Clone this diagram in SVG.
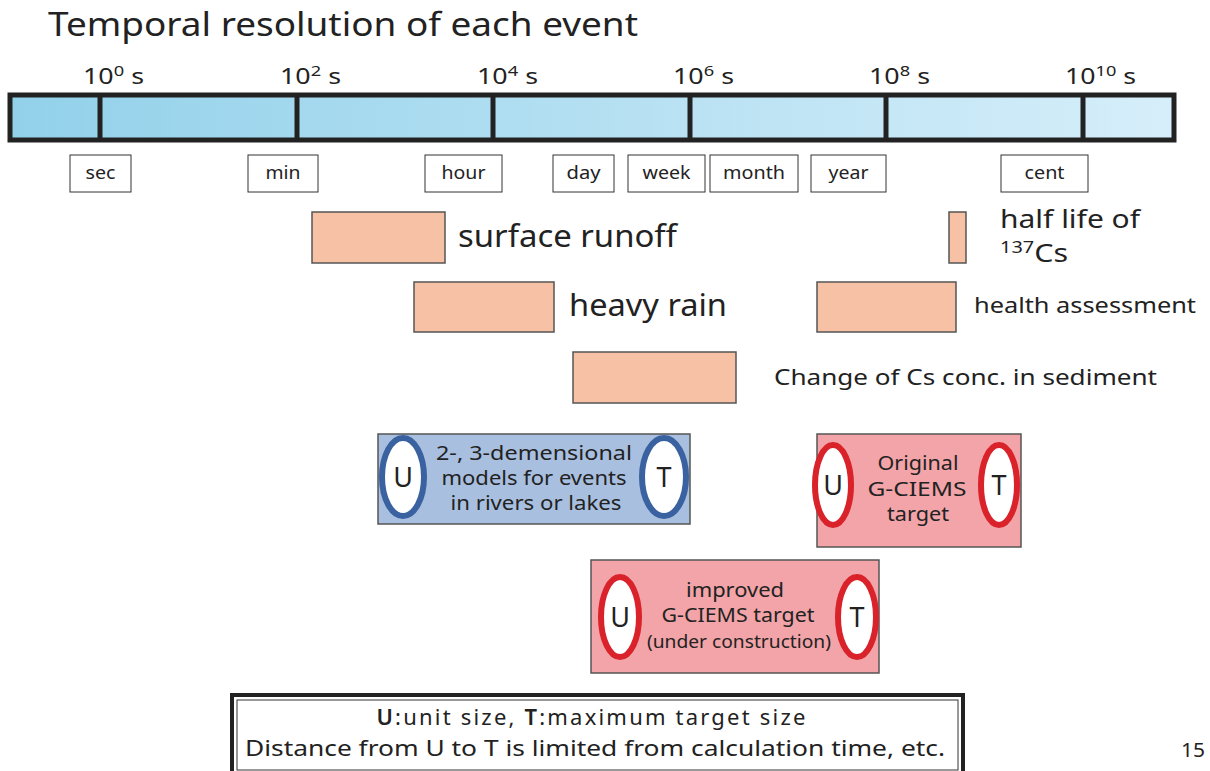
<svg xmlns="http://www.w3.org/2000/svg" width="1210" height="771" viewBox="0 0 1210 771">
<defs>
<linearGradient id="barg" x1="0" y1="0" x2="1" y2="0">
<stop offset="0" stop-color="#92d1ea"/>
<stop offset="1" stop-color="#d6eefa"/>
</linearGradient>
</defs>
<style>
text{font-family:"Noto Sans","Open Sans","DejaVu Sans",sans-serif;fill:#222}
.unit{fill:#fff;stroke:#333;stroke-width:1}
.ut{font-size:18px;text-anchor:middle}
.ev{fill:#f6c1a5;stroke:#555;stroke-width:1.5}
.div{stroke:#222;stroke-width:5}
.pow{font-size:22px}
.mid{text-anchor:middle}
.uC{fill:#fff;stroke:#3a62a0;stroke-width:6}
.rC{fill:#fff;stroke:#d9222a;stroke-width:6}
.lt{font-size:27px;text-anchor:middle}
.bt{font-size:20px;text-anchor:middle}
.lg{font-size:22px}
</style>
<rect width="1210" height="771" fill="#fff"/>
<text x="48" y="36" font-size="32" textLength="590" lengthAdjust="spacingAndGlyphs">Temporal resolution of each event</text>

<g id="scale">
<rect x="10" y="95" width="1164" height="45" fill="url(#barg)" stroke="#222" stroke-width="5"/>
<line class="div" x1="100" y1="95" x2="100" y2="140"/>
<line class="div" x1="297" y1="95" x2="297" y2="140"/>
<line class="div" x1="493" y1="95" x2="493" y2="140"/>
<line class="div" x1="690" y1="95" x2="690" y2="140"/>
<line class="div" x1="886" y1="95" x2="886" y2="140"/>
<line class="div" x1="1083" y1="95" x2="1083" y2="140"/>
<text class="pow" x="83" y="84" textLength="61" lengthAdjust="spacingAndGlyphs">10<tspan font-size="15" dy="-8">0</tspan><tspan dy="8"> s</tspan></text>
<text class="pow" x="280" y="84" textLength="61" lengthAdjust="spacingAndGlyphs">10<tspan font-size="15" dy="-8">2</tspan><tspan dy="8"> s</tspan></text>
<text class="pow" x="477" y="84" textLength="61" lengthAdjust="spacingAndGlyphs">10<tspan font-size="15" dy="-8">4</tspan><tspan dy="8"> s</tspan></text>
<text class="pow" x="673" y="84" textLength="61" lengthAdjust="spacingAndGlyphs">10<tspan font-size="15" dy="-8">6</tspan><tspan dy="8"> s</tspan></text>
<text class="pow" x="869" y="84" textLength="61" lengthAdjust="spacingAndGlyphs">10<tspan font-size="15" dy="-8">8</tspan><tspan dy="8"> s</tspan></text>
<text class="pow" x="1065" y="84" textLength="71" lengthAdjust="spacingAndGlyphs">10<tspan font-size="15" dy="-8">10</tspan><tspan dy="8"> s</tspan></text>
</g>

<g id="units">
<rect class="unit" x="70" y="155" width="61" height="37"/><text class="ut" x="100.5" y="179" textLength="30" lengthAdjust="spacingAndGlyphs">sec</text>
<rect class="unit" x="248" y="155" width="70" height="37"/><text class="ut" x="283" y="179" textLength="35" lengthAdjust="spacingAndGlyphs">min</text>
<rect class="unit" x="425" y="155" width="77" height="37"/><text class="ut" x="463.5" y="179" textLength="44" lengthAdjust="spacingAndGlyphs">hour</text>
<rect class="unit" x="553" y="155" width="61" height="37"/><text class="ut" x="583.5" y="179" textLength="34" lengthAdjust="spacingAndGlyphs">day</text>
<rect class="unit" x="628" y="155" width="77" height="37"/><text class="ut" x="666.5" y="179" textLength="48" lengthAdjust="spacingAndGlyphs">week</text>
<rect class="unit" x="710" y="155" width="88" height="37"/><text class="ut" x="754" y="179" textLength="62" lengthAdjust="spacingAndGlyphs">month</text>
<rect class="unit" x="811" y="155" width="75" height="37"/><text class="ut" x="848.5" y="179" textLength="40" lengthAdjust="spacingAndGlyphs">year</text>
<rect class="unit" x="1001" y="155" width="87" height="37"/><text class="ut" x="1044.5" y="179" textLength="40" lengthAdjust="spacingAndGlyphs">cent</text>
</g>

<g id="surface-runoff">
<rect class="ev" x="312" y="212" width="133" height="51"/>
<text x="458" y="247" font-size="30" textLength="219" lengthAdjust="spacingAndGlyphs">surface runoff</text>
</g>
<g id="half-life">
<rect class="ev" x="949" y="212" width="17" height="51"/>
<text x="1000" y="228" font-size="26" textLength="140" lengthAdjust="spacingAndGlyphs">half life of</text>
<text x="1000" y="262" font-size="26" textLength="68" lengthAdjust="spacingAndGlyphs"><tspan font-size="17" dy="-9">137</tspan><tspan dy="9">Cs</tspan></text>
</g>
<g id="heavy-rain">
<rect class="ev" x="414" y="282" width="140" height="50"/>
<text x="569" y="316" font-size="30" textLength="158" lengthAdjust="spacingAndGlyphs">heavy rain</text>
</g>
<g id="health-assessment">
<rect class="ev" x="817" y="282" width="139" height="50"/>
<text x="974" y="313" font-size="22" textLength="222" lengthAdjust="spacingAndGlyphs">health assessment</text>
</g>
<g id="cs-sediment">
<rect class="ev" x="573" y="352" width="163" height="51"/>
<text x="774" y="385" font-size="22" textLength="383" lengthAdjust="spacingAndGlyphs">Change of Cs conc. in sediment</text>
</g>

<g id="models-2d3d">
<rect x="378" y="434" width="312" height="90" fill="#a8bfdf" stroke="#555" stroke-width="1.5"/>
<ellipse class="uC" cx="403" cy="477" rx="21" ry="39"/>
<ellipse class="uC" cx="664" cy="477" rx="22" ry="39"/>
<text class="lt" x="403" y="487">U</text>
<text class="lt" x="664" y="487">T</text>
<text class="bt" x="534" y="460" textLength="196" lengthAdjust="spacingAndGlyphs">2-, 3-demensional</text>
<text class="bt" x="534" y="485" textLength="185" lengthAdjust="spacingAndGlyphs">models for events</text>
<text class="bt" x="536" y="510" textLength="171" lengthAdjust="spacingAndGlyphs">in rivers or lakes</text>
</g>

<g id="original-gciems">
<rect x="817" y="434" width="204" height="113" fill="#f2a4a8" stroke="#555" stroke-width="1.5"/>
<ellipse class="rC" cx="833" cy="485" rx="18" ry="40"/>
<ellipse class="rC" cx="999" cy="485" rx="18" ry="40"/>
<text class="lt" x="833" y="495">U</text>
<text class="lt" x="999" y="495">T</text>
<text class="bt" x="918" y="470" textLength="81" lengthAdjust="spacingAndGlyphs">Original</text>
<text class="bt" x="917" y="496" textLength="99" lengthAdjust="spacingAndGlyphs">G-CIEMS</text>
<text class="bt" x="918" y="521" textLength="62" lengthAdjust="spacingAndGlyphs">target</text>
</g>

<g id="improved-gciems">
<rect x="591" y="560" width="288" height="113" fill="#f2a4a8" stroke="#555" stroke-width="1.5"/>
<ellipse class="rC" cx="620" cy="617" rx="19" ry="40"/>
<ellipse class="rC" cx="857" cy="617" rx="19" ry="40"/>
<text class="lt" x="620" y="627">U</text>
<text class="lt" x="857" y="627">T</text>
<text class="bt" x="735" y="597" textLength="98" lengthAdjust="spacingAndGlyphs">improved</text>
<text class="bt" x="738" y="622" textLength="153" lengthAdjust="spacingAndGlyphs">G-CIEMS target</text>
<text class="mid" x="739" y="648" font-size="18" textLength="184" lengthAdjust="spacingAndGlyphs">(under construction)</text>
</g>

<g id="legend">
<rect x="232" y="695" width="731" height="80" fill="#fff" stroke="#222" stroke-width="4"/>
<rect x="237" y="700" width="721" height="70" fill="none" stroke="#333" stroke-width="1"/>
<text class="lg mid" x="592" y="725" letter-spacing="2.2"><tspan font-weight="600">U</tspan>:unit size, <tspan font-weight="600">T</tspan>:maximum target size</text>
<text class="lg" x="245" y="756" textLength="700" lengthAdjust="spacingAndGlyphs">Distance from U to T is limited from calculation time, etc.</text>
</g>

<text x="1181" y="757" font-size="20" textLength="24" lengthAdjust="spacingAndGlyphs">15</text>
</svg>
